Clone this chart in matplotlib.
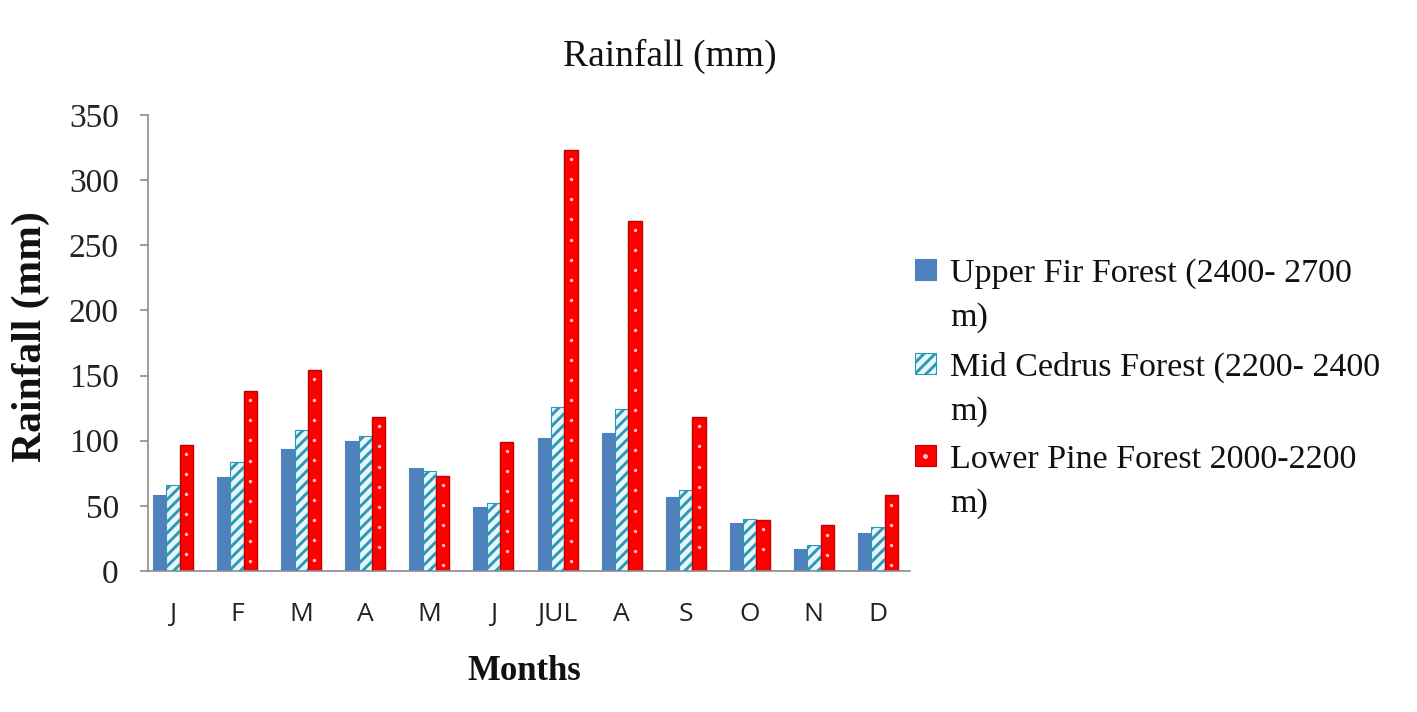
import matplotlib
matplotlib.use("Agg")
import matplotlib.pyplot as plt
import numpy as np
from matplotlib.patches import Rectangle

# monthly rainfall (mm)
months = ["J", "F", "M", "A", "M", "J", "JUL", "A", "S", "O", "N", "D"]
upper_fir = [58, 72, 94, 100, 79, 49, 102, 106, 57, 37, 17, 29]
mid_cedrus = [66, 84, 108, 104, 77, 52, 126, 124, 62, 40, 20, 34]
lower_pine = [97, 138, 154, 118, 73, 99, 323, 269, 118, 39, 35, 58]

labels = ["Upper Fir Forest (2400- 2700\nm)",
          "Mid Cedrus Forest (2200- 2400\nm)",
          "Lower Pine Forest 2000-2200\nm)"]

W, H = 1417, 712
SERIF = "Liberation Serif"
plt.rcParams["hatch.linewidth"] = 2.1

fig = plt.figure(figsize=(W / 100, H / 100), dpi=100)
ax = fig.add_axes([148 / W, 1 - 571 / H, 762 / W, 456 / H])

blue = "#4F81BD"
teal = "#2E98B8"
red = "#FF0000"
dot_col = "#FFC8C8"

x = np.arange(len(months))
bw = 0.208

ax.bar(x - bw, upper_fir, bw, color=blue, edgecolor=blue, linewidth=0.8, zorder=2)
ax.bar(x, mid_cedrus, bw, color="#E8F6FA", edgecolor=teal, linewidth=0.8, zorder=2)
ax.bar(x, mid_cedrus, bw, facecolor="none", edgecolor=teal, hatch="///",
       linewidth=0, zorder=3)
ax.bar(x + bw, lower_pine, bw, color=red, edgecolor="#C00000", linewidth=1.0, zorder=2)

# the little dots running up the centre of each red bar
step = 15.4
for xi, v in zip(x + bw, lower_pine):
    ys = np.arange(v - 7, 4, -step)
    ax.scatter(np.full(len(ys), xi), ys, s=6, color=dot_col, linewidths=0, zorder=4)

ax.set_xlim(-0.39, 11.5)
ax.set_ylim(0, 350)
ax.set_yticks(range(0, 351, 50))
ax.set_xticks(x)
ax.set_xticklabels(months, fontfamily="Open Sans", fontsize=19, color="#222222")
for lab in ax.get_yticklabels():
    lab.set_fontfamily(SERIF)
    lab.set_fontsize(24)
    lab.set_color("#222222")

for side in ["top", "right"]:
    ax.spines[side].set_visible(False)
for side in ["left", "bottom"]:
    ax.spines[side].set_color("#8C8C8C")
    ax.spines[side].set_linewidth(1.2)
ax.tick_params(axis="y", length=6, width=1.2, color="#8C8C8C", pad=15)
ax.tick_params(axis="x", length=0, pad=22)

fig.text(670 / W, 1 - 66 / H, "Rainfall (mm)", fontfamily=SERIF, fontsize=27,
         ha="center", va="baseline", color="#111111")
fig.text(31 / W, 1 - 337 / H, "Rainfall (mm)", fontfamily=SERIF, fontsize=30,
         fontweight="bold", rotation=90, ha="center", va="center", color="#111111")
fig.text(524 / W, 1 - 680 / H, "Months", fontfamily=SERIF, fontsize=25,
         fontweight="bold", ha="center", va="baseline", color="#111111")

# legend drawn by hand so the key sits on the first line of each wrapped label
first_baselines = [282, 376, 468]
keys = [(blue, blue), ("#E8F6FA", teal), (red, "#C00000")]
for i, (lab, base) in enumerate(zip(labels, first_baselines)):
    fc, ec = keys[i]
    kx, ky = 915 / W, 1 - (base - 2) / H
    fig.add_artist(Rectangle((kx, ky), 21 / W, 21 / H, transform=fig.transFigure,
                             facecolor=fc, edgecolor=ec, lw=0.8))
    if i == 1:
        fig.add_artist(Rectangle((kx, ky), 21 / W, 21 / H, transform=fig.transFigure,
                                 facecolor="none", edgecolor=teal, hatch="///", lw=0))
    if i == 2:
        fig.add_artist(plt.Line2D([kx + 10.5 / W], [ky + 10.5 / H], marker="o",
                                  markersize=2.5, color=dot_col, linestyle="none",
                                  transform=fig.transFigure))
    for k, line in enumerate(lab.split("\n")):
        fig.text(950 / W, 1 - (base + 44 * k) / H, line, fontfamily=SERIF,
                 fontsize=24.5, ha="left", va="baseline", color="#111111")

fig.savefig("out.png", dpi=100)
